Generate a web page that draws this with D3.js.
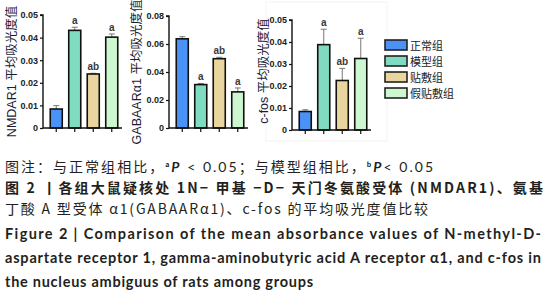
<!DOCTYPE html>
<html>
<head>
<meta charset="utf-8">
<script src="https://cdn.jsdelivr.net/npm/d3@7"></script>
<style>
  body { margin: 0; background: #fff; }
  svg { display: block; }
</style>
</head>
<body>
<div id="chart"></div>
<script>
const groups = ['正常组', '模型组', '贴敷组', '假贴敷组']
const colors = ['#4a92f6', '#7fdcc1', '#ebd59f', '#cdf7d0']

const nmdarMean = [0.0084, 0.0432, 0.0239, 0.0402]
const nmdarErr = [0.0015, 0.0014, 0.0003, 0.0014]
const nmdarMark = ['', 'a', 'ab', 'a']
const nmdarTicks = [0, 0.01, 0.02, 0.03, 0.04, 0.05]

const gabaMean = [0.0637, 0.0310, 0.0495, 0.0258]
const gabaErr = [0.0015, 0.0008, 0.0010, 0.0028]
const gabaMark = ['', 'a', 'ab', 'a']
const gabaTicks = [0, 0.02, 0.04, 0.06, 0.08]

const cfosMean = [0.0084, 0.0388, 0.0225, 0.0325]
const cfosErr = [0.0008, 0.0070, 0.0055, 0.0092]
const cfosMark = ['', 'a', 'ab', 'a']
const cfosTicks = [0, 0.01, 0.02, 0.03, 0.04, 0.05]

const width = 548
const height = 300

const svg = d3.select('#chart')
  .append('svg')
  .attr('width', width)
  .attr('height', height)

// faint frame round the third panel
svg.append('rect')
  .attr('x', 266).attr('y', 2)
  .attr('width', 121).attr('height', 139)
  .attr('fill', 'none')
  .attr('stroke', '#f3f3f3')

const drawPanel = (opt) => {
  const g = svg.append('g')
  const y = d3.scaleLinear().domain([0, opt.max]).range([opt.y0, opt.y1])
  const x = d3.scaleBand()
    .domain(groups)
    .range([opt.x0 + 4, opt.x0 + 78])
    .paddingInner(0.35)
    .paddingOuter(0.175)

  const rows = groups.map((k, i) => ({ k, v: opt.mean[i], e: opt.err[i], m: opt.mark[i], c: colors[i] }))

  // error bars
  const eb = g.selectAll('.eb').data(rows).join('g')
  eb.append('line')
    .attr('x1', (d) => x(d.k) + x.bandwidth() / 2)
    .attr('x2', (d) => x(d.k) + x.bandwidth() / 2)
    .attr('y1', (d) => y(d.v))
    .attr('y2', (d) => y(d.v + d.e))
    .attr('stroke', '#777').attr('stroke-width', 1)
  eb.append('line')
    .attr('x1', (d) => x(d.k) + x.bandwidth() / 2 - 3)
    .attr('x2', (d) => x(d.k) + x.bandwidth() / 2 + 3)
    .attr('y1', (d) => y(d.v + d.e))
    .attr('y2', (d) => y(d.v + d.e))
    .attr('stroke', '#777').attr('stroke-width', 1)

  // bars
  g.selectAll('.bar').data(rows).join('rect')
    .attr('x', (d) => x(d.k))
    .attr('y', (d) => y(d.v))
    .attr('width', x.bandwidth())
    .attr('height', (d) => y(0) - y(d.v))
    .attr('fill', (d) => d.c)
    .attr('stroke', '#111')
    .attr('stroke-width', 1.6)

  // significance letters
  g.selectAll('.mk').data(rows).join('text')
    .attr('x', (d) => x(d.k) + x.bandwidth() / 2)
    .attr('y', (d) => y(d.v + d.e) - 3)
    .attr('text-anchor', 'middle')
    .attr('font-family', 'Liberation Sans, Arial, sans-serif')
    .attr('font-weight', 'bold')
    .attr('font-size', 10)
    .attr('fill', '#3a3a3a')
    .text((d) => d.m)

  // axes
  const yAxis = g.append('g')
    .attr('transform', `translate(${opt.x0},0)`)
    .call(d3.axisLeft(y).tickValues(opt.ticks).tickSize(3).tickPadding(2)
      .tickFormat((d) => (d === 0 ? '0' : d3.format('.2f')(d))))
  yAxis.select('.domain').attr('stroke', '#111').attr('stroke-width', 1.4)
    .attr('d', `M-3,${opt.y1}H0V${opt.y0}`)
  yAxis.selectAll('.tick line').attr('stroke', '#111').attr('stroke-width', 1.2)
  yAxis.selectAll('.tick text')
    .attr('font-family', 'Liberation Sans, Arial, sans-serif')
    .attr('font-weight', 'bold')
    .attr('font-size', 9)
    .attr('fill', '#222')

  const xAxis = g.append('g')
    .attr('transform', `translate(0,${opt.y0})`)
    .call(d3.axisBottom(x).tickSize(4).tickFormat(''))
  xAxis.select('.domain').attr('stroke', '#111').attr('stroke-width', 1.4)
    .attr('d', `M${opt.x0},0H${opt.x0 + 79}`)
  xAxis.selectAll('.tick line').attr('stroke', '#111').attr('stroke-width', 1.2)

  // y title
  g.append('text')
    .attr('transform', `translate(${opt.lx},${(opt.y0 + opt.y1) / 2 + opt.ldy}) rotate(-90)`)
    .attr('text-anchor', 'middle')
    .attr('dominant-baseline', 'central')
    .attr('font-family', 'Liberation Sans, "Noto Sans CJK SC", sans-serif')
    .attr('font-size', 12.5)
    .attr('fill', '#1d1d38')
    .text(opt.label)
}

drawPanel({ x0: 43, y0: 128, y1: 15, max: 0.05, mean: nmdarMean, err: nmdarErr, mark: nmdarMark, ticks: nmdarTicks, lx: 12, ldy: 0, label: 'NMDAR1 平均吸光度值' })
drawPanel({ x0: 169, y0: 128, y1: 16, max: 0.08, mean: gabaMean, err: gabaErr, mark: gabaMark, ticks: gabaTicks, lx: 137, ldy: 0, label: 'GABAARα1 平均吸光度值' })
drawPanel({ x0: 292, y0: 130, y1: 20, max: 0.05, mean: cfosMean, err: cfosErr, mark: cfosMark, ticks: cfosTicks, lx: 264, ldy: -4, label: 'c-fos 平均吸光度值' })

// legend
const legend = svg.append('g').attr('transform', 'translate(385,40)')
const li = legend.selectAll('g').data(groups).join('g')
  .attr('transform', (d, i) => `translate(0,${i * 16})`)
li.append('rect')
  .attr('width', 22).attr('height', 10)
  .attr('fill', (d, i) => colors[i])
  .attr('stroke', '#222').attr('stroke-width', 1.6)
li.append('text')
  .attr('x', 25).attr('y', 5)
  .attr('dominant-baseline', 'central')
  .attr('font-family', '"Noto Sans CJK SC", sans-serif')
  .attr('font-size', 11)
  .attr('fill', '#222')
  .text((d) => d)

// caption
const cap = svg.append('g').attr('fill', '#231f20')

const l1 = cap.append('text').attr('x', 5).attr('y', 172)
  .attr('font-family', '"Noto Sans CJK SC", sans-serif').attr('font-size', 14)
  .attr('textLength', 428).attr('lengthAdjust', 'spacing')
l1.append('tspan').text('图注：与正常组相比，')
l1.append('tspan').attr('font-size', 7).attr('dy', -5).attr('font-weight', 'bold').text('a')
l1.append('tspan').attr('dy', 5).attr('font-style', 'italic').attr('font-weight', 'bold')
  .attr('font-family', 'Lato, sans-serif').text('P')
l1.append('tspan').attr('font-family', 'Lato, sans-serif').text(' < 0.05')
l1.append('tspan').text('；与模型组相比，')
l1.append('tspan').attr('font-size', 7).attr('dy', -5).attr('font-weight', 'bold').text('b')
l1.append('tspan').attr('dy', 5).attr('font-style', 'italic').attr('font-weight', 'bold')
  .attr('font-family', 'Lato, sans-serif').text('P')
l1.append('tspan').attr('font-family', 'Lato, sans-serif').text('< 0.05')

cap.append('text').attr('x', 5).attr('y', 193)
  .attr('font-family', '"Noto Sans CJK SC", sans-serif').attr('font-size', 14).attr('font-weight', 'bold')
  .attr('textLength', 538).attr('lengthAdjust', 'spacing')
  .text('图 2 丨各组大鼠疑核处 1N− 甲基 −D− 天门冬氨酸受体 (NMDAR1)、氨基')

cap.append('text').attr('x', 5).attr('y', 214)
  .attr('font-family', '"Noto Sans CJK SC", sans-serif').attr('font-size', 14)
  .attr('textLength', 423).attr('lengthAdjust', 'spacing')
  .text('丁酸 A 型受体 α1(GABAARα1)、c-fos 的平均吸光度值比较')

const en = [
  { t: 'Figure 2  |  Comparison of the mean absorbance values of N-methyl-D-', y: 239, w: 536 },
  { t: 'aspartate receptor 1, gamma-aminobutyric acid A receptor α1, and c-fos in', y: 263, w: 536 },
  { t: 'the nucleus ambiguus of rats among groups', y: 287, w: 308 }
]
cap.selectAll('.en').data(en).join('text')
  .attr('x', 5).attr('y', (d) => d.y)
  .attr('font-family', 'Lato, "Open Sans", sans-serif')
  .attr('font-size', 14.5).attr('font-weight', 'bold')
  .attr('textLength', (d) => d.w).attr('lengthAdjust', 'spacing')
  .text((d) => d.t)
</script>
</body>
</html>
